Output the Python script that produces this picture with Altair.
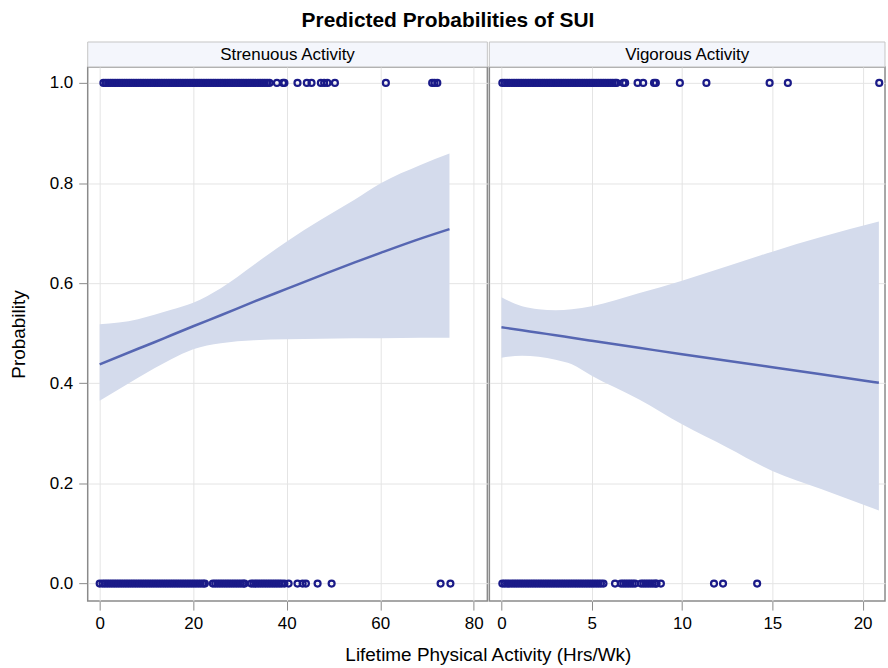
import altair as alt
import pandas as pd

FONT = "Liberation Sans"

# ---------------- data ----------------
# Strenuous Activity: observed outcomes (SUI = 1 and SUI = 0), hrs/wk
stren_sui1 = [0.8, 1.3, 1.8, 2.3, 2.8, 3.3, 3.8, 4.3, 4.8, 5.3, 5.8, 6.3, 6.8, 7.3, 7.8,
              8.3, 8.8, 9.3, 9.8, 10.3, 10.8, 11.3, 11.8, 12.3, 12.8, 13.3, 13.8, 14.3,
              14.8, 15.3, 15.8, 16.3, 16.8, 17.3, 17.8, 18.3, 18.8, 19.3, 19.8, 20.3,
              20.8, 21.3, 21.8, 22.3, 22.8, 23.3, 23.8, 24.3, 24.8, 25.3, 25.8, 26.3,
              26.8, 27.3, 27.8, 28.3, 28.8, 29.3, 29.8, 30.3, 30.8, 31.3, 31.8, 32.3,
              32.8, 33.3, 33.8, 34.3, 34.8, 35.3, 35.8, 36.3, 37.9, 39.2, 39.5, 42.3,
              44.3, 45.3, 47.3, 48.0, 48.7, 50.3, 61.2, 71.1, 71.6, 72.2]
stren_sui0 = [0.0, 0.6, 1.1, 1.6, 2.1, 2.6, 3.1, 3.6, 4.1, 4.6, 5.1, 5.6, 6.1, 6.6, 7.1,
              7.6, 8.1, 8.6, 9.1, 9.6, 10.1, 10.6, 11.1, 11.6, 12.1, 12.6, 13.1, 13.6,
              14.1, 14.6, 15.1, 15.6, 16.1, 16.6, 17.1, 17.6, 18.1, 18.6, 19.1, 19.6,
              20.1, 20.6, 21.1, 21.6, 22.1, 22.5, 24.2, 24.7, 25.2, 25.7, 26.2, 26.7,
              27.2, 27.7, 28.2, 28.7, 29.2, 29.7, 30.2, 30.7, 31.0, 32.4, 32.9, 33.4,
              33.9, 34.4, 34.9, 35.4, 35.9, 36.4, 36.9, 37.4, 37.9, 38.4, 38.9, 39.5,
              40.4, 42.3, 43.4, 44.1, 46.6, 49.6, 72.9, 75.0]
# Strenuous Activity: fitted probability and 95% band
stren_x = [0, 8.2, 11.7, 15.3, 20, 25.9, 33, 40.1, 47.2, 54.4, 60.2, 68.6, 74.8]
stren_p = [0.438, 0.469, 0.482, 0.496, 0.514, 0.536, 0.563, 0.589, 0.615, 0.641, 0.661, 0.689, 0.708]
stren_lo = [0.365, 0.411, 0.430, 0.448, 0.468, 0.480, 0.486, 0.488, 0.489, 0.490, 0.490, 0.491, 0.491]
stren_hi = [0.518, 0.528, 0.537, 0.547, 0.561, 0.590, 0.637, 0.684, 0.726, 0.766, 0.800, 0.836, 0.859]

# Vigorous Activity: observed outcomes
vig_sui1 = [0.05, 0.18, 0.31, 0.44, 0.57, 0.70, 0.83, 0.96, 1.09, 1.22, 1.35, 1.48, 1.61,
            1.74, 1.87, 2.00, 2.13, 2.26, 2.39, 2.52, 2.65, 2.78, 2.91, 3.04, 3.17, 3.30,
            3.43, 3.56, 3.69, 3.82, 3.95, 4.08, 4.21, 4.34, 4.47, 4.60, 4.73, 4.86, 4.99,
            5.12, 5.25, 5.38, 5.51, 5.64, 5.77, 5.90, 6.03, 6.16, 6.29, 6.38, 6.75, 6.85,
            7.54, 7.85, 8.45, 8.55, 9.88, 11.35, 14.85, 15.86, 20.92]
vig_sui0 = [0.05, 0.18, 0.31, 0.44, 0.57, 0.70, 0.83, 0.96, 1.09, 1.22, 1.35, 1.48, 1.61,
            1.74, 1.87, 2.00, 2.13, 2.26, 2.39, 2.52, 2.65, 2.78, 2.91, 3.04, 3.17, 3.30,
            3.43, 3.56, 3.69, 3.82, 3.95, 4.08, 4.21, 4.34, 4.47, 4.60, 4.73, 4.86, 4.99,
            5.12, 5.25, 5.38, 5.51, 5.65, 6.29, 6.62, 6.75, 6.88, 7.01, 7.14, 7.27, 7.40,
            7.73, 7.86, 7.99, 8.12, 8.25, 8.38, 8.51, 8.59, 8.83, 11.77, 12.27, 14.16]
# Vigorous Activity: fitted probability and 95% band
vig_x = [0, 1.14, 2.06, 3.0, 3.9, 5, 7.6, 10, 12.5, 15, 17.7, 20.9]
vig_p = [0.512, 0.506, 0.501, 0.496, 0.491, 0.485, 0.471, 0.458, 0.445, 0.432, 0.418, 0.401]
vig_lo = [0.451, 0.455, 0.453, 0.447, 0.438, 0.415, 0.368, 0.318, 0.272, 0.225, 0.189, 0.146]
vig_hi = [0.572, 0.554, 0.548, 0.546, 0.548, 0.554, 0.580, 0.605, 0.634, 0.663, 0.692, 0.723]

panels = ["Strenuous Activity", "Vigorous Activity"]
y_ticks = [0.0, 0.2, 0.4, 0.6, 0.8, 1.0]
stren_ticks = [0, 20, 40, 60, 80]
vig_ticks = [0, 5, 10, 15, 20]

# ---------------- styling ----------------
W_L, W_R, H = 401, 397, 536
HDR = 25
GRID = "#e4e4e4"
BAND = "#d4dbec"
LINE = "#5666b2"
MARK = "#1a1a88"


def points_df(s1, s0):
    return pd.DataFrame({"x": s1 + s0, "y": [1.0] * len(s1) + [0.0] * len(s0)})


def fit_df(x, p, lo, hi):
    return pd.DataFrame({"x": x, "p": p, "lo": lo, "hi": hi})


one = pd.DataFrame({"k": [0]})


def panel(pts, fit, xdomain, xticks, header, width, show_y, xtitle=None):
    xs = alt.Scale(domain=xdomain, nice=False, zero=False)
    ys = alt.Scale(domain=[-0.035, 1.032], nice=False, zero=False)
    xa = alt.Axis(values=xticks, title=None, grid=True, gridColor=GRID, domain=False,
                  tickColor="#8a8a8a", tickSize=9, labelFontSize=17, labelFont=FONT,
                  labelColor="#000000", labelPadding=5, format="d")
    if show_y:
        ya = alt.Axis(values=y_ticks, format=".1f", title="Probability", grid=True,
                      gridColor=GRID, domain=False, tickColor="#8a8a8a", tickSize=9,
                      labelFontSize=17, labelFont=FONT, labelColor="#000000",
                      labelPadding=6, titleFont=FONT, titleFontSize=19,
                      titleFontWeight="normal", titleColor="#000000", titlePadding=21)
    else:
        ya = alt.Axis(values=y_ticks, labels=False, ticks=False, domain=False, title=None,
                      grid=True, gridColor=GRID)
    base = alt.Chart(fit)
    band = base.mark_area(color=BAND, opacity=1, interpolate="monotone").encode(
        x=alt.X("x:Q", scale=xs, axis=xa),
        y=alt.Y("lo:Q", scale=ys, axis=ya),
        y2="hi:Q",
    )
    line = base.mark_line(color=LINE, strokeWidth=2.5, interpolate="monotone").encode(
        x="x:Q", y="p:Q"
    )
    dots = alt.Chart(pts).mark_point(shape="circle", filled=False, color=MARK, size=36,
                                     strokeWidth=2.2, opacity=1).encode(x="x:Q", y="y:Q")
    hdr = alt.Chart(one).mark_rect(fill="#f4f6fc", stroke="#c6c6c6", strokeWidth=1).encode(
        x=alt.value(0), x2=alt.value(width), y=alt.value(-HDR), y2=alt.value(0)
    )
    hdr_txt = alt.Chart(one).mark_text(text=header, font=FONT, fontSize=17, color="#000000",
                                       align="center", baseline="middle").encode(
        x=alt.value(width / 2), y=alt.value(-HDR / 2 + 0.5)
    )
    layers = [band, line, dots, hdr, hdr_txt]
    if xtitle:
        layers.append(
            alt.Chart(one).mark_text(text=xtitle, font=FONT, fontSize=19, color="#000000",
                                     align="center", baseline="middle").encode(
                x=alt.value(width + 1), y=alt.value(H + 54)
            )
        )
    return alt.layer(*layers).properties(width=width, height=H)


left = panel(points_df(stren_sui1, stren_sui0), fit_df(stren_x, stren_p, stren_lo, stren_hi),
             [-2.56, 82.9], stren_ticks, panels[0], W_L, True,
             xtitle="Lifetime Physical Activity (Hrs/Wk)")
right = panel(points_df(vig_sui1, vig_sui0), fit_df(vig_x, vig_p, vig_lo, vig_hi),
              [-0.67, 21.24], vig_ticks, panels[1], W_R, False)

chart = alt.hconcat(left, right, spacing=2, bounds="flush").resolve_scale(
    x="independent", y="independent"
).properties(
    title=alt.TitleParams("Predicted Probabilities of SUI", font=FONT, fontSize=21,
                          fontWeight="bold", color="#000000", anchor="middle", offset=10),
    padding={"left": 8, "top": 8, "right": 0, "bottom": 0},
    background="white",
).configure_view(stroke="#8a8a8a", strokeWidth=1.5)

chart.save("out.html", embed_options={"renderer": "svg", "actions": False})
